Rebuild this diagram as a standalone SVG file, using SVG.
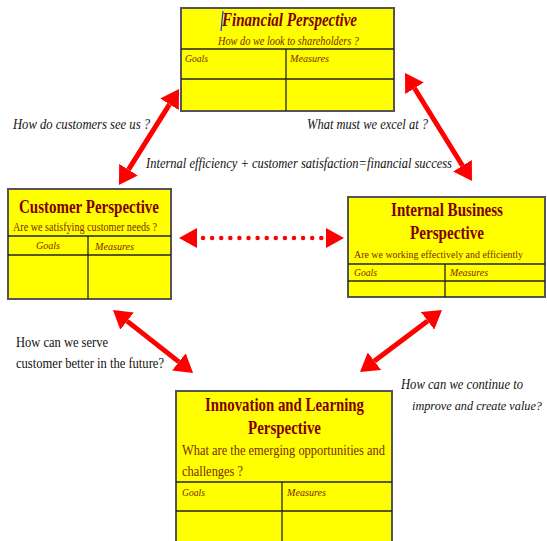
<svg xmlns="http://www.w3.org/2000/svg" width="547" height="541" viewBox="0 0 547 541">
<style>
.box{fill:#ffff00;stroke:#555;stroke-width:2}
.ln{stroke:#222;stroke-width:1.3;fill:none}
.t{font-family:"Liberation Serif",serif;fill:#800000;font-weight:bold}
.s{font-family:"Liberation Serif",serif;fill:#7a2a00}
.i{font-style:italic}
.c{font-family:"Liberation Serif",serif;fill:#111;font-size:14px}
.ar{stroke:#ff0000;stroke-width:5;fill:none;marker-start:url(#ah);marker-end:url(#ah)}
</style>
<defs>
<marker id="ah" viewBox="0 0 18 22" refX="0" refY="11" markerWidth="18" markerHeight="22" markerUnits="userSpaceOnUse" orient="auto-start-reverse">
<path d="M0,0 L18,11 L0,22 Z" fill="#ff0000"/>
</marker>
</defs>
<rect width="547" height="541" fill="#fff"/>

<g id="financial">
<rect class="box" x="181" y="8" width="213" height="103"/>
<line class="ln" x1="181" y1="49" x2="394" y2="49"/>
<line class="ln" x1="181" y1="79" x2="394" y2="79"/>
<line class="ln" x1="286" y1="49" x2="286" y2="111"/>
<text class="t i" x="222" y="26" font-size="19" textLength="135" lengthAdjust="spacingAndGlyphs">Financial Perspective</text>
<line x1="223" y1="11" x2="221" y2="31" stroke="#1a3cff" stroke-width="1.3"/>
<text class="s i" x="218" y="45" font-size="12" textLength="141" lengthAdjust="spacingAndGlyphs">How  do we look to shareholders ?</text>
<text class="s i" x="185" y="62" font-size="11" textLength="23" lengthAdjust="spacingAndGlyphs">Goals</text>
<text class="s i" x="290" y="62" font-size="11" textLength="39" lengthAdjust="spacingAndGlyphs">Measures</text>
</g>

<g id="customer">
<rect class="box" x="8" y="189" width="163" height="110"/>
<line class="ln" x1="8" y1="236" x2="171" y2="236"/>
<line class="ln" x1="8" y1="255" x2="171" y2="255"/>
<line class="ln" x1="88" y1="236" x2="88" y2="299"/>
<text class="t" x="19" y="213" font-size="19" textLength="140" lengthAdjust="spacingAndGlyphs">Customer Perspective</text>
<text class="s" x="13" y="231" font-size="12" textLength="144" lengthAdjust="spacingAndGlyphs">Are we satisfying customer needs ?</text>
<text class="s i" x="36" y="249" font-size="11" textLength="24" lengthAdjust="spacingAndGlyphs">Goals</text>
<text class="s i" x="95" y="250" font-size="11" textLength="39" lengthAdjust="spacingAndGlyphs">Measures</text>
</g>

<g id="internal">
<rect class="box" x="348" y="197" width="197" height="100"/>
<line class="ln" x1="348" y1="264" x2="545" y2="264"/>
<line class="ln" x1="348" y1="281" x2="545" y2="281"/>
<line class="ln" x1="445" y1="264" x2="445" y2="297"/>
<text class="t" x="391" y="216" font-size="19" textLength="112" lengthAdjust="spacingAndGlyphs">Internal Business</text>
<text class="t" x="410" y="239" font-size="19" textLength="74" lengthAdjust="spacingAndGlyphs">Perspective</text>
<text class="s" x="354" y="258" font-size="10.5" textLength="169" lengthAdjust="spacingAndGlyphs">Are we working effectively and efficiently</text>
<text class="s i" x="354" y="276" font-size="11" textLength="23" lengthAdjust="spacingAndGlyphs">Goals</text>
<text class="s i" x="450" y="276" font-size="11" textLength="38" lengthAdjust="spacingAndGlyphs">Measures</text>
</g>

<g id="innovation">
<rect class="box" x="176" y="391" width="216" height="152"/>
<line class="ln" x1="176" y1="482" x2="392" y2="482"/>
<line class="ln" x1="176" y1="511" x2="392" y2="511"/>
<line class="ln" x1="282" y1="482" x2="282" y2="541"/>
<text class="t" x="205" y="411" font-size="19" textLength="159" lengthAdjust="spacingAndGlyphs">Innovation and Learning</text>
<text class="t" x="248" y="434" font-size="19" textLength="73" lengthAdjust="spacingAndGlyphs">Perspective</text>
<text class="s" x="182" y="455" font-size="15" textLength="203" lengthAdjust="spacingAndGlyphs">What are the emerging opportunities and</text>
<text class="s" x="182" y="476" font-size="15" textLength="61" lengthAdjust="spacingAndGlyphs">challenges ?</text>
<text class="s i" x="182" y="496" font-size="11" textLength="23" lengthAdjust="spacingAndGlyphs">Goals</text>
<text class="s i" x="287" y="496" font-size="11" textLength="39" lengthAdjust="spacingAndGlyphs">Measures</text>
</g>

<g id="connectors">
<path class="ar" d="M169.5,104.3 L128.5,169.7"/>
<path class="ar" d="M414.5,88.3 L462.5,165.7"/>
<path class="ar" d="M127.1,321.1 L178.9,361.9"/>
<path class="ar" d="M427.6,320.9 L374.4,361.1"/>
<line x1="203" y1="238" x2="322" y2="238" stroke="#ff0000" stroke-width="4.5" stroke-linecap="round" stroke-dasharray="0 9.1"/>
<polygon points="179,238 197,228 197,248" fill="#ff0000"/>
<polygon points="344,238 326,228 326,248" fill="#ff0000"/>
</g>

<g id="labels">
<text class="c i" x="13" y="129" textLength="137" lengthAdjust="spacingAndGlyphs">How do customers see us ?</text>
<text class="c i" x="307" y="129" textLength="121" lengthAdjust="spacingAndGlyphs">What must we excel at ?</text>
<text class="c i" x="146" y="168" textLength="306" lengthAdjust="spacingAndGlyphs">Internal efficiency + customer satisfaction=financial success</text>
<text class="c" x="16" y="347" textLength="92" lengthAdjust="spacingAndGlyphs">How can we serve</text>
<text class="c" x="16" y="368" textLength="148" lengthAdjust="spacingAndGlyphs">customer better in the future?</text>
<text class="c i" x="401" y="389" textLength="122" lengthAdjust="spacingAndGlyphs">How can we continue to</text>
<text class="c i" x="412" y="410" style="font-size:12.5px" textLength="130" lengthAdjust="spacingAndGlyphs">improve and create value?</text>
</g>
</svg>
